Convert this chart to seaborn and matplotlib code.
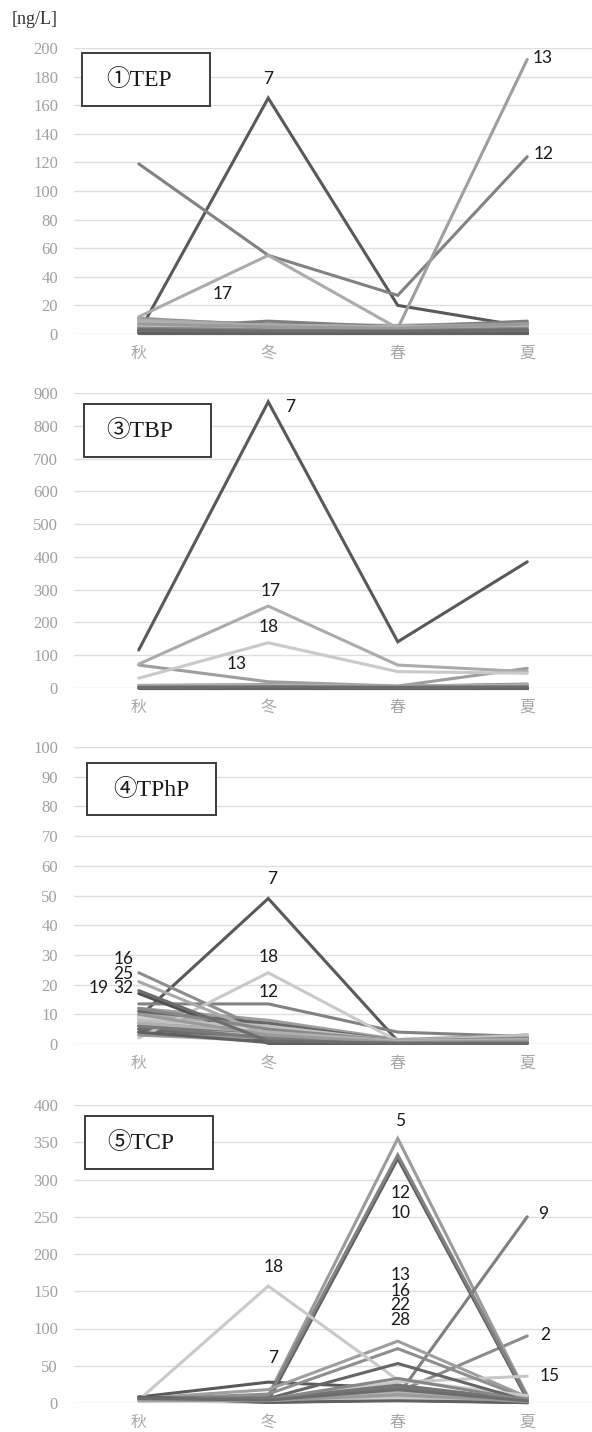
import numpy as np
import pandas as pd
import matplotlib
matplotlib.use("Agg")
import matplotlib.pyplot as plt
from matplotlib.patches import Rectangle
import seaborn as sns

# ---------------------------------------------------------------- data
SEASONS = ["秋", "冬", "春", "夏"]
SITES = list(range(1, 33))

# one grey per sampling site, shared by every panel
SITE_GRAYS = [
    "#5A5A5A", "#8C8C8C", "#B4B4B4", "#6E6E6E", "#9B9B9B", "#C3C3C3", "#595959", "#A5A5A5",
    "#7F7F7F", "#5F5F5F", "#BEBEBE", "#828282", "#9E9E9E", "#6A6A6A", "#C8C8C8", "#8E8E8E",
    "#ABABAB", "#C9C9C9", "#505050", "#B9B9B9", "#747474", "#666666", "#D0D0D0", "#959595",
    "#A9A9A9", "#7A7A7A", "#C0C0C0", "#878787", "#B0B0B0", "#616161", "#9A9A9A", "#6C6C6C",
]

# (1) TEP [ng/L], sites 1..32
TEP_AUTUMN = [2, 9, 1, 5, 3, 8, 1, 10, 4, 0.5, 7, 119, 8, 2, 6, 11,
              12, 9, 0.5, 7, 3, 1, 8, 5, 10, 2, 6, 4, 9, 0.5, 7, 3]
TEP_WINTER = [2, 6, 1, 4, 3, 5, 165, 7, 9, 1, 5, 55, 4, 2, 4, 6,
              55, 5, 0.5, 4, 3, 1, 6, 4, 6, 2, 5, 3, 5, 0.5, 5, 2]
TEP_SPRING = [2, 5, 1, 4, 3, 5, 20, 6, 5, 1, 4, 27, 4, 2, 3, 5,
              4, 4, 0.5, 3, 2, 1, 5, 4, 5, 2, 4, 3, 5, 0.5, 4, 2]
TEP_SUMMER = [3, 8, 2, 5, 4, 6, 5, 8, 9, 1, 6, 124, 192, 2, 5, 7,
              3, 4, 0.5, 5, 3, 1, 4, 6, 7, 2, 5, 4, 6, 0.5, 7, 3]

# (3) TBP [ng/L]
TBP_AUTUMN = [3, 5, 1, 2, 4, 1, 116, 6, 2, 0.5, 3, 8, 70, 1, 4, 5,
              73, 30, 1, 3, 2, 1, 6, 3, 7, 1, 4, 2, 5, 0.5, 3, 2]
TBP_WINTER = [4, 6, 2, 3, 5, 1, 873, 8, 4, 1, 5, 10, 19, 2, 6, 8,
              250, 138, 1, 4, 3, 2, 7, 5, 9, 2, 6, 4, 7, 0.5, 5, 3]
TBP_SPRING = [2, 3, 1, 2, 3, 1, 141, 4, 2, 0.5, 3, 5, 6, 1, 3, 4,
              70, 50, 1, 2, 2, 1, 4, 3, 5, 1, 3, 2, 4, 0.5, 3, 2]
TBP_SUMMER = [3, 8, 2, 4, 5, 1, 385, 10, 6, 1, 4, 12, 60, 2, 7, 9,
              50, 45, 1, 5, 3, 2, 8, 6, 10, 2, 5, 3, 8, 0.5, 5, 3]

# (4) TPhP [ng/L]
TPHP_AUTUMN = [5, 8, 3, 6, 10, 4, 9, 11, 7, 4, 9, 13.5, 12, 5, 8, 24,
               10, 2, 17, 7, 6, 11, 9, 3, 21, 6, 8, 12, 7, 4, 10, 18]
TPHP_WINTER = [2, 4, 1, 3, 5, 2, 49, 6, 3, 1, 4, 13.5, 8, 2, 5, 4,
               6, 24, 0.2, 3, 4, 7, 5, 2, 3, 2, 6, 5, 4, 0.5, 3, 1]
TPHP_SPRING = [0.5, 1, 0.3, 0.5, 1, 0.5, 1, 1, 0.5, 0.3, 1, 4, 1.5, 0.5, 1, 0.5,
               1, 1, 0.2, 0.5, 1, 1, 1, 0.5, 0.5, 0.5, 1, 1, 1, 0.2, 0.5, 0.3]
TPHP_SUMMER = [1, 2, 0.5, 1, 2, 1, 0.5, 3, 1.5, 0.5, 2, 2.5, 3, 1, 2, 0.5,
               2, 1, 0.2, 1, 1.5, 2, 2.5, 1, 1, 0.5, 3, 2, 1.5, 0.2, 1, 0.3]

# (5) TCP [ng/L]
TCP_AUTUMN = [5, 5, 3, 6, 5, 4, 8, 6, 4, 6, 3, 5, 6, 7, 3, 5,
              4, 4, 7, 3, 6, 7, 2, 5, 4, 6, 3, 6, 5, 8, 4, 6]
TCP_WINTER = [2, 3, 1, 4, 10, 2, 28, 5, 2, 3, 2, 8, 18, 4, 5, 12,
              6, 157, 1, 3, 5, 6, 2, 4, 3, 2, 4, 5, 3, 1, 3, 4]
TCP_SPRING = [8, 15, 5, 12, 355, 6, 20, 18, 10, 328, 8, 333, 83, 22, 28, 73,
              14, 31, 4, 10, 24, 53, 6, 16, 12, 20, 9, 33, 14, 3, 11, 18]
TCP_SUMMER = [2, 90, 1, 3, 10, 2, 0.5, 4, 250, 5, 2, 8, 8, 3, 36, 6,
              3, 10, 0.5, 2, 4, 3, 1, 3, 2, 1, 2, 4, 3, 0.5, 2, 3]

# site numbers written next to the notable lines: (text, x position, value)
TEP_NOTES = [("7", 1.0, 178), ("13", 3.12, 193), ("12", 3.13, 126), ("17", 0.65, 28)]
TBP_NOTES = [("7", 1.17, 857), ("17", 1.02, 296), ("18", 1.0, 186), ("13", 0.76, 73)]
TPHP_NOTES = [("7", 1.03, 55.5), ("18", 1.0, 29.4), ("12", 1.0, 17.6),
              ("16", -0.12, 28.6), ("25", -0.12, 23.5), ("32", -0.12, 18.8),
              ("19", -0.31, 18.8)]
TCP_NOTES = [("5", 2.02, 379), ("12", 2.02, 282), ("10", 2.02, 254.5), ("9", 3.12, 254),
             ("18", 1.04, 183), ("13", 2.02, 172), ("16", 2.02, 151), ("22", 2.02, 131),
             ("28", 2.02, 112), ("7", 1.04, 61), ("2", 3.14, 91), ("15", 3.17, 36)]

TITLES = ["①TEP", "③TBP", "④TPhP", "⑤TCP"]
Y_MAX = [200, 900, 100, 400]
Y_STEP = [20, 100, 10, 50]

# ---------------------------------------------------------------- style
sns.set_theme(style="white")
plt.rcParams["font.family"] = ["Liberation Serif", "Noto Sans CJK JP", "DejaVu Sans"]

W, H = 592, 1432
fig = plt.figure(figsize=(W / 100, H / 100), dpi=100)


def fig_px(x, y):
    """pixel position (from top-left) to figure fraction"""
    return x / W, 1 - y / H


# axes frames in pixels: (left, top, right, bottom)
FRAMES = [(74, 48, 592, 334), (74, 393, 592, 688), (74, 747, 592, 1044), (74, 1105, 592, 1403)]
# title boxes in pixels: (left, top, right, bottom, text-x, text-y)
BOXES = [(82, 53, 210, 106, 139, 80), (84, 404, 211, 457, 140, 431),
         (87, 763, 216, 815, 151, 790), (85, 1116, 213, 1169, 141, 1143)]

PANELS = [
    (TEP_AUTUMN, TEP_WINTER, TEP_SPRING, TEP_SUMMER, TEP_NOTES),
    (TBP_AUTUMN, TBP_WINTER, TBP_SPRING, TBP_SUMMER, TBP_NOTES),
    (TPHP_AUTUMN, TPHP_WINTER, TPHP_SPRING, TPHP_SUMMER, TPHP_NOTES),
    (TCP_AUTUMN, TCP_WINTER, TCP_SPRING, TCP_SUMMER, TCP_NOTES),
]

palette = {str(s): c for s, c in zip(SITES, SITE_GRAYS)}
serif = ["Liberation Serif", "DejaVu Serif"]

for i, (aut, win, spr, sumr, notes) in enumerate(PANELS):
    l, t, r, b = FRAMES[i]
    x0, y0 = fig_px(l, b)
    x1, y1 = fig_px(r, t)
    ax = fig.add_axes([x0, y0, x1 - x0, y1 - y0])

    wide = pd.DataFrame({"site": [str(s) for s in SITES],
                         SEASONS[0]: aut, SEASONS[1]: win,
                         SEASONS[2]: spr, SEASONS[3]: sumr})
    df = wide.melt(id_vars="site", var_name="season", value_name="value")
    df["pos"] = df["season"].map({s: k for k, s in enumerate(SEASONS)})

    sns.lineplot(data=df, x="pos", y="value", hue="site", palette=palette,
                 hue_order=[str(s) for s in SITES], estimator=None, sort=True,
                 legend=False, linewidth=2.2, ax=ax)
    for ln in ax.get_lines():
        ln.set_clip_on(False)
        ln.set_solid_joinstyle("miter")

    ax.set_xlim(-0.5, 3.5)
    ax.set_ylim(0, Y_MAX[i])
    for s in ax.spines.values():
        s.set_visible(False)
    ax.set_xlabel("")
    ax.set_ylabel("")

    yt = np.arange(0, Y_MAX[i] + Y_STEP[i], Y_STEP[i])
    ax.set_yticks(yt)
    ax.set_yticklabels([str(v) for v in yt])
    for lab in ax.get_yticklabels():
        lab.set_family(serif)
        lab.set_fontsize(12)
        lab.set_color("#A0A0A0")
    ax.set_xticks(range(len(SEASONS)))
    ax.set_xticklabels(SEASONS)
    for lab in ax.get_xticklabels():
        lab.set_family(["Noto Sans CJK JP"])
        lab.set_fontsize(11.5)
        lab.set_color("#A6A6A6")
    ax.tick_params(axis="y", length=0, pad=11.5)
    ax.tick_params(axis="x", length=0, pad=8)
    ax.yaxis.grid(True, color="#DEDEDE", linewidth=1.0)
    ax.xaxis.grid(False)
    ax.set_axisbelow(True)

    for txt, xp, yv in notes:
        ax.text(xp, yv, txt, ha="center", va="center", family=["Lato", "DejaVu Sans"],
                fontsize=12.5, color="#1A1A1A")

    bl, bt, br, bb, tx, ty = BOXES[i]
    rx0, ry0 = fig_px(bl, bb)
    rx1, ry1 = fig_px(br, bt)
    fig.patches.append(Rectangle((rx0, ry0), rx1 - rx0, ry1 - ry0,
                                 transform=fig.transFigure, facecolor="white",
                                 edgecolor="#3C3C3C", linewidth=1.4, zorder=5))
    cx, cy = fig_px(tx, ty)
    fig.text(cx, cy, TITLES[i], ha="center", va="center", fontsize=17,
             family=["Liberation Serif", "Noto Sans CJK JP"], color="#1A1A1A",
             zorder=6)

ux, uy = fig_px(12, 20)
fig.text(ux, uy, "[ng/L]", ha="left", va="center", fontsize=13,
         family=serif, color="#333333")

fig.savefig("out.png", dpi=100)
